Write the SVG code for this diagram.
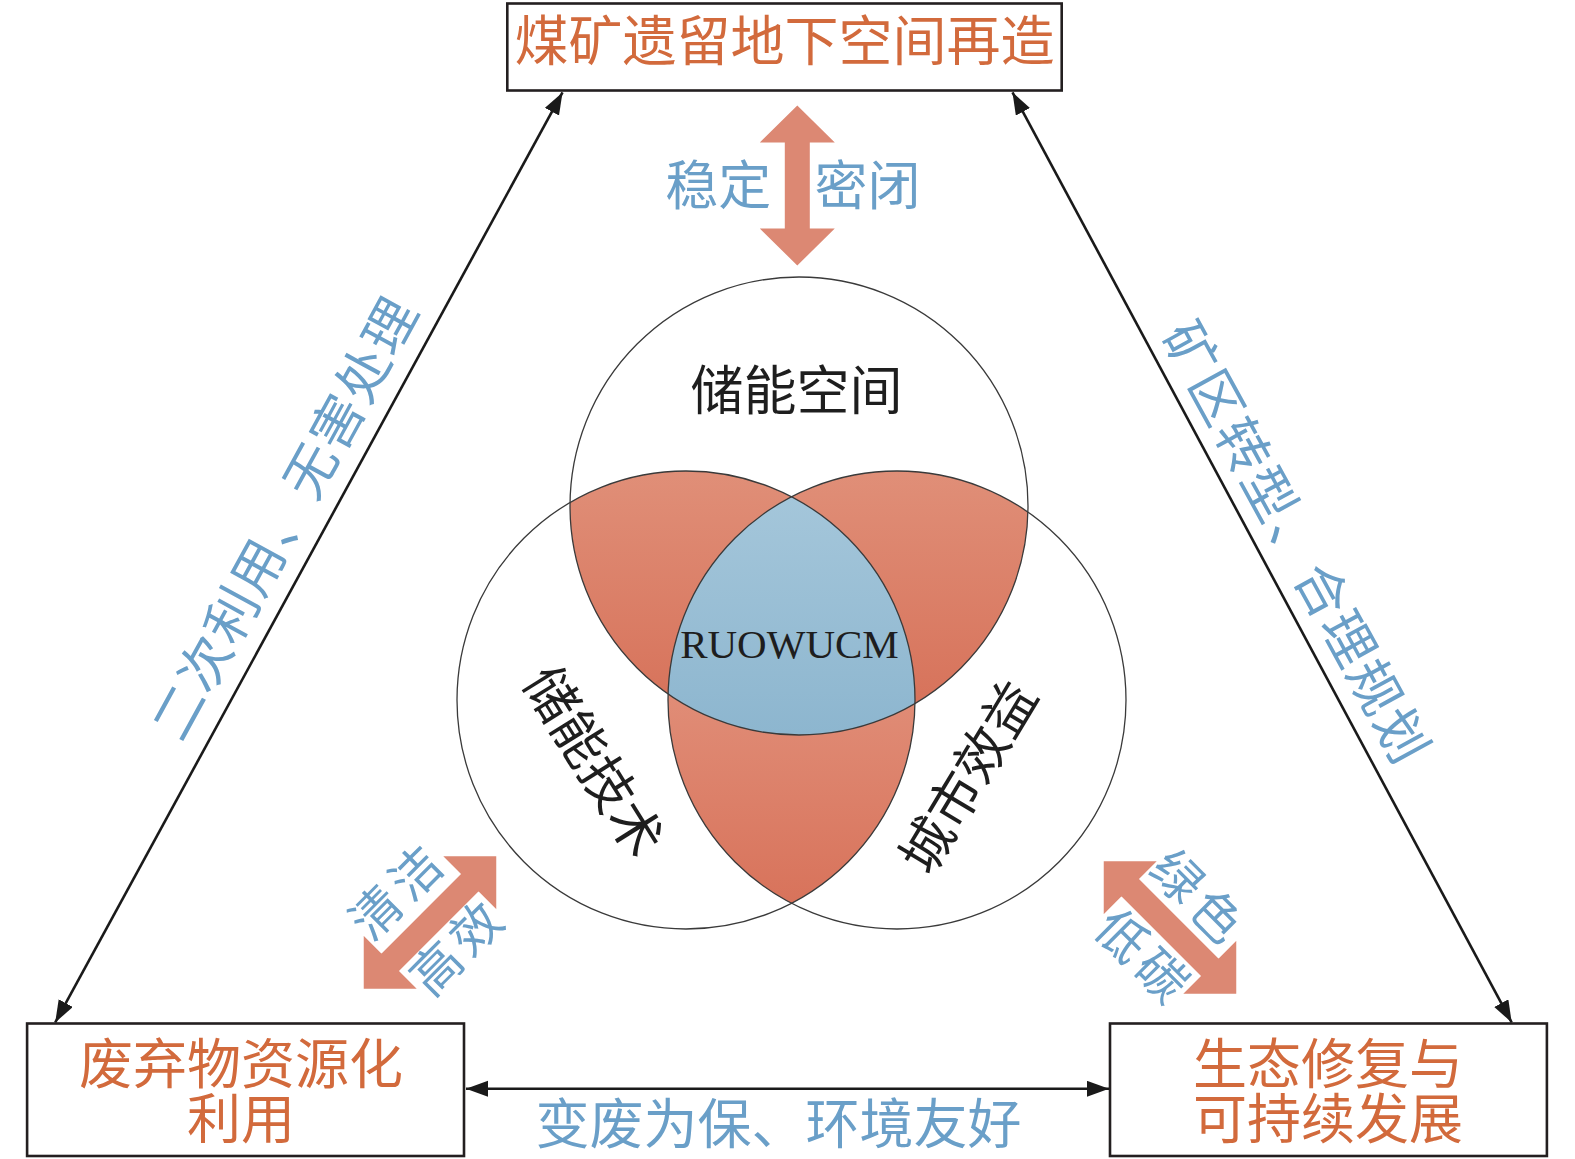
<svg xmlns="http://www.w3.org/2000/svg" width="1575" height="1159" viewBox="0 0 1575 1159">
  <style>
    .box { fill: #ffffff; stroke: #231f20; stroke-width: 2.6; }
    .orange { fill: #d26a3c; font-family: "Noto Sans CJK SC", "Noto Sans", sans-serif; font-size: 54px; text-anchor: middle; }
    .blue { fill: #6a9fc8; font-family: "Noto Sans CJK SC", "Noto Sans", sans-serif; text-anchor: middle; }
    .black { fill: #1e1e1e; font-family: "Noto Sans CJK SC", "Noto Sans", sans-serif; font-size: 53px; text-anchor: middle; }
    .conn { stroke: #1a1a1a; stroke-width: 2.6; fill: none; marker-start: url(#ah); marker-end: url(#ah); }
    .thick { fill: #dc8873; }
    .ring { fill: none; stroke: #3a3a3a; stroke-width: 1.3; }
    .wbox { fill: #ffffff; }
  </style>
  <defs>
    <marker id="ah" markerUnits="userSpaceOnUse" markerWidth="24" markerHeight="18" refX="22" refY="8" orient="auto-start-reverse">
      <path d="M0,0 L22,8 L0,16 Z" fill="#1a1a1a"/>
    </marker>
    <path id="dbl" d="M-93.7,0 L-56.2,-37.5 L-56.2,-12.5 L56.2,-12.5 L56.2,-37.5 L93.7,0 L56.2,37.5 L56.2,12.5 L-56.2,12.5 L-56.2,37.5 Z"/>
    <clipPath id="c1"><circle cx="799" cy="506" r="229"/></clipPath>
    <clipPath id="c2"><circle cx="686" cy="700" r="229"/></clipPath>
    <linearGradient id="redTop" gradientUnits="userSpaceOnUse" x1="0" y1="470" x2="0" y2="700">
      <stop offset="0" stop-color="#e08f78"/>
      <stop offset="1" stop-color="#d7735b"/>
    </linearGradient>
    <linearGradient id="redBot" gradientUnits="userSpaceOnUse" x1="0" y1="700" x2="0" y2="902">
      <stop offset="0" stop-color="#e08c76"/>
      <stop offset="1" stop-color="#d8735b"/>
    </linearGradient>
    <linearGradient id="blueG" gradientUnits="userSpaceOnUse" x1="0" y1="497" x2="0" y2="734">
      <stop offset="0" stop-color="#a4c6da"/>
      <stop offset="1" stop-color="#8db6cf"/>
    </linearGradient>
  </defs>

  <rect width="1575" height="1159" fill="#ffffff"/>

  <!-- Connectors -->
  <g id="connectors">
    <line class="conn" x1="562.5" y1="92.4" x2="55.2" y2="1022.5"/>
    <line class="conn" x1="1012.5" y1="92.4" x2="1511.7" y2="1022.5"/>
    <line class="conn" x1="466" y1="1088.8" x2="1109" y2="1088.8"/>
  </g>

  <!-- Nodes -->
  <g id="node-top">
    <rect class="box" x="507.3" y="3.5" width="554.4" height="87"/>
    <text class="orange" x="784.5" y="61">煤矿遗留地下空间再造</text>
  </g>
  <g id="node-left">
    <rect class="box" x="27.1" y="1023.5" width="436.9" height="132.5"/>
    <text class="orange" x="241" y="1084">废弃物资源化</text>
    <text class="orange" x="241" y="1139">利用</text>
  </g>
  <g id="node-right">
    <rect class="box" x="1110" y="1023.5" width="436.9" height="132.5"/>
    <text class="orange" x="1328" y="1084">生态修复与</text>
    <text class="orange" x="1328" y="1139">可持续发展</text>
  </g>

  <!-- Venn -->
  <g id="venn">
    <g clip-path="url(#c1)">
      <circle cx="686" cy="700" r="229" fill="url(#redTop)"/>
      <circle cx="897" cy="700" r="229" fill="url(#redTop)"/>
    </g>
    <g clip-path="url(#c2)">
      <circle cx="897" cy="700" r="229" fill="url(#redBot)"/>
    </g>
    <g clip-path="url(#c1)">
      <g clip-path="url(#c2)">
        <circle cx="897" cy="700" r="229" fill="url(#blueG)"/>
      </g>
    </g>
    <circle class="ring" cx="799" cy="506" r="229"/>
    <circle class="ring" cx="686" cy="700" r="229"/>
    <circle class="ring" cx="897" cy="700" r="229"/>
    <text class="black" x="796.5" y="410">储能空间</text>
    <text x="789.5" y="657.5" text-anchor="middle" font-family="'Liberation Serif', 'Times New Roman', serif" font-size="41" fill="#1e1e1e">RUOWUCM</text>
    <text class="black" transform="translate(592.6,762) rotate(58)" x="0" y="18">储能技术</text>
    <text class="black" transform="translate(969.3,777.5) rotate(-59)" x="0" y="18">城市效益</text>
  </g>

  <!-- Thick double arrows and their labels -->
  <g id="arrow-top">
    <path class="thick" d="M797.3,105.5 L834.8,142.5 L809.8,142.5 L809.8,228.5 L834.8,228.5 L797.3,265.5 L759.8,228.5 L784.8,228.5 L784.8,142.5 L759.8,142.5 Z"/>
    <text class="blue" x="718.2" y="205" font-size="53">稳定</text>
    <text class="blue" x="867.4" y="205" font-size="53">密闭</text>
  </g>
  <g id="arrow-left" transform="translate(430,922.5) rotate(-45)">
    <use href="#dbl" class="thick"/>
    <rect class="wbox" x="-56" y="-76" width="112" height="63.5"/>
    <rect class="wbox" x="-56" y="12.5" width="112" height="63.5"/>
    <text class="blue" x="0" y="-27" font-size="50" letter-spacing="6">清洁</text>
    <text class="blue" x="3" y="55" font-size="50" letter-spacing="6">高效</text>
  </g>
  <g id="arrow-right" transform="translate(1170,927.5) rotate(45)">
    <use href="#dbl" class="thick"/>
    <rect class="wbox" x="-56" y="-76" width="112" height="63.5"/>
    <rect class="wbox" x="-56" y="12.5" width="112" height="63.5"/>
    <text class="blue" x="0" y="-23" font-size="50" letter-spacing="6">绿色</text>
    <text class="blue" x="3" y="58" font-size="50" letter-spacing="6">低碳</text>
  </g>

  <!-- Edge labels -->
  <g id="edge-labels">
    <text class="blue" font-size="53" letter-spacing="2" transform="translate(285,518) rotate(-61.3)" x="0" y="19">二次利用、无害处理</text>
    <text class="blue" font-size="53" letter-spacing="2" transform="translate(1296,543) rotate(61.3)" x="0" y="19">矿区转型、合理规划</text>
    <text class="blue" font-size="54" x="778.5" y="1144">变废为保、环境友好</text>
  </g>
</svg>
